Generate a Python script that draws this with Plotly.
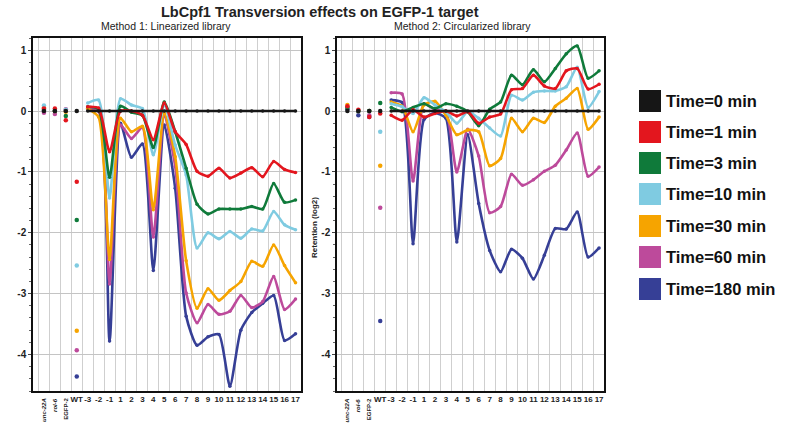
import plotly.graph_objects as go

# ---------------- data ----------------
categories = ["unc-22A", "rol-6", "EGFP-2", "WT", "-3", "-2", "-1",
              "1", "2", "3", "4", "5", "6", "7", "8", "9", "10",
              "11", "12", "13", "14", "15", "16", "17"]
series_names = ["Time=0 min", "Time=1 min", "Time=3 min", "Time=10 min",
                "Time=30 min", "Time=60 min", "Time=180 min"]
colors = ["#161616", "#e3161e", "#0f7a3a", "#7fcbe1", "#f6a400", "#bd4a9b", "#363f96"]

# Method 1: Linearized library (first 4 values = controls unc-22A, rol-6, EGFP-2, WT)
m1_t0 = [0, 0, 0, 0, 0, 0, 0, 0, 0, 0, 0, 0, 0, 0, 0, 0, 0, 0, 0, 0, 0, 0, 0, 0]
m1_t1 = [0.04, 0.04, -0.15, -1.16, 0.07, 0.05, -0.67, 0.00, 0.00, -0.07, -0.47, 0.13,
         -0.34, -0.55, -0.99, -1.07, -0.94, -1.10, -1.02, -0.93, -1.08, -0.83, -0.96, -1.01]
m1_t3 = [0.02, 0.00, -0.08, -1.79, 0.07, 0.03, -1.09, 0.08, -0.02, -0.07, -0.60, 0.15,
         -0.34, -0.94, -1.53, -1.69, -1.61, -1.61, -1.61, -1.57, -1.61, -1.19, -1.50, -1.46]
m1_t10 = [0.09, 0.02, 0.02, -2.54, 0.13, 0.18, -1.43, 0.20, 0.10, 0.04, -0.72, 0.10,
          -0.56, -1.05, -2.25, -2.00, -2.10, -1.98, -2.09, -1.94, -1.97, -1.65, -1.87, -1.95]
m1_t30 = [0.06, 0.00, -0.01, -3.61, 0.04, -0.10, -2.44, -0.12, -0.34, -0.25, -1.62, -0.04,
          -0.75, -2.46, -3.24, -2.92, -3.11, -2.95, -2.80, -2.47, -2.55, -2.20, -2.54, -2.82]
m1_t60 = [-0.03, -0.05, 0.03, -3.93, 0.04, 0.00, -2.84, -0.23, -0.45, -0.27, -2.07, -0.08,
          -0.91, -2.99, -3.48, -3.18, -3.34, -3.29, -3.03, -3.23, -3.13, -2.72, -3.26, -3.09]
m1_t180 = [0.00, 0.00, 0.00, -4.36, 0.02, 0.01, -3.78, -0.20, -0.76, -0.54, -2.62, -0.23,
           -1.27, -3.37, -3.85, -3.71, -3.67, -4.52, -3.60, -3.31, -3.16, -3.03, -3.77, -3.66]

# Method 2: Circularized library
m2_t0 = [0, 0, 0, 0, 0, 0, 0, 0, 0, 0, 0, 0, 0, 0, 0, 0, 0, 0, 0, 0, 0, 0, 0, 0]
m2_t1 = [0.08, 0.02, -0.10, -0.04, -0.07, -0.15, 0.02, -0.10, -0.04, 0.00, -0.08, -0.01,
         -0.20, -0.10, -0.05, 0.35, 0.37, 0.59, 0.41, 0.37, 0.66, 0.70, 0.36, 0.44]
m2_t3 = [0.05, 0.00, 0.00, 0.13, 0.06, -0.01, 0.06, 0.12, 0.04, 0.12, 0.08, -0.01,
         -0.24, 0.03, 0.15, 0.59, 0.43, 0.68, 0.48, 0.70, 0.94, 1.07, 0.54, 0.66]
m2_t10 = [0.06, 0.00, 0.00, -0.34, 0.12, 0.07, -0.04, 0.22, 0.10, -0.01, -0.20, -0.01,
          -0.12, -0.28, -0.41, 0.26, 0.18, 0.31, 0.33, 0.33, 0.40, 0.72, 0.06, 0.32]
m2_t30 = [0.10, 0.00, 0.00, -0.90, 0.15, 0.08, -0.34, 0.10, 0.16, -0.07, -0.39, -0.31,
          -0.34, -0.90, -0.78, -0.12, -0.34, -0.12, -0.19, 0.08, 0.21, 0.37, -0.30, -0.10]
m2_t60 = [0.07, 0.00, -0.07, -1.59, 0.30, 0.28, -1.15, 0.12, 0.02, -0.01, -1.00, -0.30,
          -0.74, -1.67, -1.57, -1.04, -1.22, -1.13, -0.99, -0.89, -0.64, -0.36, -1.07, -0.92]
m2_t180 = [0.03, -0.07, -0.10, -3.45, 0.18, 0.14, -2.18, -0.14, -0.03, -0.12, -2.15, -0.39,
           -1.52, -2.29, -2.64, -2.27, -2.42, -2.76, -2.37, -1.93, -1.94, -1.66, -2.40, -2.25]

y_ticks = [1, 0, -1, -2, -3, -4]

m1_series = [m1_t0, m1_t1, m1_t3, m1_t10, m1_t30, m1_t60, m1_t180]
m2_series = [m2_t0, m2_t1, m2_t3, m2_t10, m2_t30, m2_t60, m2_t180]

# ---------------- figure ----------------
W, H = 800, 423
FONT = "Liberation Sans, Arial, sans-serif"
fig = go.Figure()

xs = list(range(len(categories)))
n_ctrl = 4
draw_order = [6, 5, 4, 3, 2, 1, 0]

for panel, series in (("x", m1_series), ("x2", m2_series)):
    yax = "y" if panel == "x" else "y2"
    for k in draw_order:
        vals = series[k]
        # control points
        fig.add_trace(go.Scatter(
            x=xs[:n_ctrl], y=vals[:n_ctrl], mode="markers", xaxis=panel, yaxis=yax,
            marker=dict(color=colors[k], size=4.5), showlegend=False, hoverinfo="skip"))
        # position lines
        fig.add_trace(go.Scatter(
            x=xs[n_ctrl:], y=vals[n_ctrl:], mode="lines+markers", xaxis=panel, yaxis=yax,
            line=dict(color=colors[k], width=2.6, shape="spline", smoothing=0.6),
            marker=dict(color=colors[k], size=3.5), showlegend=False,
            name=series_names[k]))

def px_x(p):
    return p / W

def px_y(p):
    return 1 - p / H

tick_font = dict(family=FONT, size=8, color="#222")
xaxis_common = dict(
    range=[-1.0, 23.5], tickmode="array", tickvals=xs[3:],
    ticktext=["<b>" + c + "</b>" for c in categories[3:]],
    tickangle=0, tickfont=tick_font, showgrid=False, zeroline=False,
    showline=True, linecolor="#111", linewidth=1.5, mirror=True, ticks="",
    minor=dict(tickmode="array", tickvals=[i + 0.5 for i in range(-1, 23)],
               showgrid=True, gridcolor="#cfcfcf", gridwidth=1),
)
yaxis_common = dict(
    range=[-4.6, 1.2], tickmode="array", tickvals=y_ticks,
    ticktext=["<b>" + str(v) + "</b>" for v in y_ticks],
    tickfont=dict(family=FONT, size=10, color="#222"), showgrid=True,
    gridcolor="#c4c4c4", gridwidth=1.2, zeroline=False, showline=True, linecolor="#111",
    linewidth=1.5, mirror=True, ticks="outside", ticklen=3, tickcolor="#444",
    minor=dict(dtick=0.2, ticks="outside", ticklen=2, tickcolor="#666", showgrid=False),
    domain=[px_y(391), px_y(38)],
)

fig.update_layout(
    width=W, height=H, margin=dict(l=0, r=0, t=0, b=0),
    paper_bgcolor="white", plot_bgcolor="white", showlegend=False,
    font=dict(family=FONT),
    xaxis=dict(xaxis_common, domain=[px_x(33), px_x(301)], anchor="y"),
    yaxis=dict(yaxis_common, anchor="x"),
    xaxis2=dict(xaxis_common, range=[-0.95, 23.45], domain=[px_x(337), px_x(604)], anchor="y2"),
    yaxis2=dict(yaxis_common, anchor="x2"),
)

ann = []
# title and subtitles
ann.append(dict(text="<b>LbCpf1 Transversion effects on EGFP-1 target</b>", x=px_x(320), y=px_y(12),
                xref="paper", yref="paper", showarrow=False, xanchor="center", yanchor="middle",
                font=dict(family=FONT, size=14.5, color="#222")))
ann.append(dict(text="Method 1: Linearized library", x=px_x(166), y=px_y(26),
                xref="paper", yref="paper", showarrow=False, xanchor="center", yanchor="middle",
                font=dict(family=FONT, size=10.5, color="#222")))
ann.append(dict(text="Method 2: Circularized library", x=px_x(462), y=px_y(26),
                xref="paper", yref="paper", showarrow=False, xanchor="center", yanchor="middle",
                font=dict(family=FONT, size=10.5, color="#222")))
# y axis title
ann.append(dict(text="<b>Retention (log2)</b>", x=px_x(314), y=px_y(228), textangle=-90,
                xref="paper", yref="paper", showarrow=False, xanchor="center", yanchor="middle",
                font=dict(family=FONT, size=8, color="#222")))
# rotated control labels
ctrl_text = ["<i>unc-22A</i>", "<i>rol-6</i>", "EGFP-2"]
for xr in ("x", "x2"):
    for i, t in enumerate(ctrl_text):
        ann.append(dict(text="<b>" + t + "</b>", x=xs[i], y=px_y(396), xref=xr, yref="paper",
                        textangle=-90, showarrow=False, xanchor="center", yanchor="top",
                        font=dict(family=FONT, size=6, color="#222")))

# legend (manual)
shapes = []
leg_y = [101, 132, 163, 194, 226, 257, 289]
for k, name in enumerate(series_names):
    cy = leg_y[k]
    shapes.append(dict(type="rect", xref="paper", yref="paper",
                       x0=px_x(639), x1=px_x(661), y0=px_y(cy + 11), y1=px_y(cy - 11),
                       fillcolor=colors[k], line=dict(width=0)))
    ann.append(dict(text="<b>" + name + "</b>", x=px_x(664), y=px_y(cy), xref="paper", yref="paper",
                    showarrow=False, xanchor="left", yanchor="middle",
                    font=dict(family=FONT, size=16.5, color="#111")))

fig.update_layout(annotations=ann, shapes=shapes)
fig.write_html("out.html", config={"displayModeBar": False},
               post_script="document.body.style.margin='0px';document.body.style.padding='0px';")
